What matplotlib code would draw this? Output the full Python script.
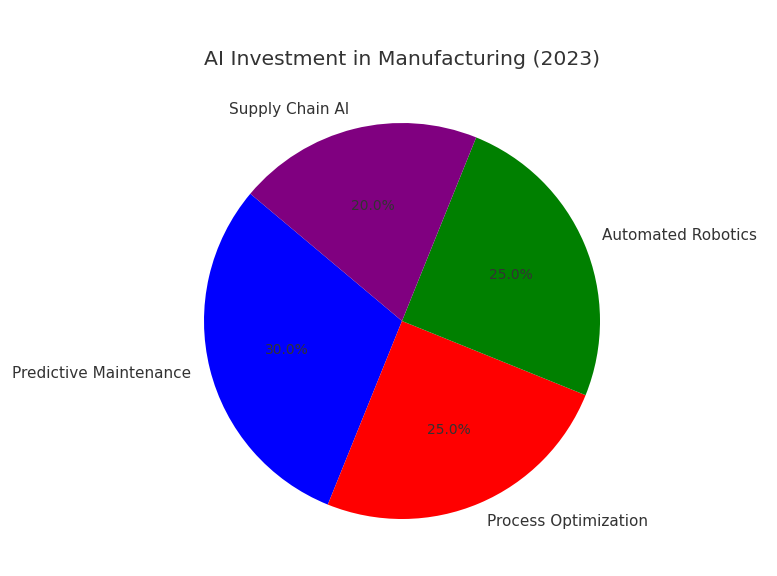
import matplotlib
matplotlib.use("Agg")
import matplotlib.pyplot as plt

# data
labels = ['Predictive Maintenance', 'Process Optimization', 'Automated Robotics', 'Supply Chain AI']
sizes = [30, 25, 25, 20]
colors = ['blue', 'red', 'green', 'purple']

text_color = '#333333'

fig = plt.figure(figsize=(7.77, 5.76), dpi=100)
# square axes so the pie sits where it does in the reference
ax = fig.add_axes([154.5 / 777, 7.5 / 576, 495 / 777, 495 / 576])

wedges, texts, autotexts = ax.pie(sizes, labels=labels, colors=colors,
                                  autopct='%1.1f%%', startangle=140,
                                  textprops={'color': text_color})
for t in texts:
    t.set_fontsize(11)
for t in autotexts:
    t.set_fontsize(10)

ax.set_title('AI Investment in Manufacturing (2023)', fontsize=14.7, color=text_color)
ax.set_xlim(-1.25, 1.25)
ax.set_ylim(-1.25, 1.25)
ax.set_aspect('equal')

fig.savefig('out.png', dpi=100)
